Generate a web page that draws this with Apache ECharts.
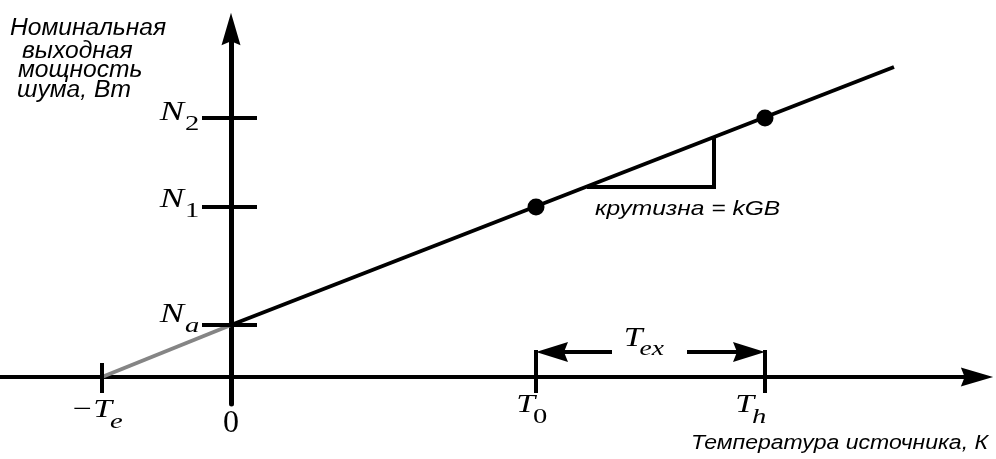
<!DOCTYPE html>
<html><head><meta charset="utf-8">
<script src="https://cdn.jsdelivr.net/npm/echarts@6/dist/echarts.min.js"></script>
</head><body style="margin:0;background:#fff">
<div id="c" style="width:996px;height:459px"></div>
<script>
// ---- data (schematic units) ----
const xTickValues = [-129, 0, 305, 534];
const xTickMain = ['\u2212T', '0', 'T', 'T'];
const xTickSub = ['e', '', '0', 'h'];
const yTickValues = [52, 170, 259];
const yTickMain = ['N', 'N', 'N'];
const yTickSub = ['a', '1', '2'];
const extrapolatedLine = [[-129, 0], [0, 52]];
const noiseLine = [[0, 52], [663, 310]];
const markedPoints = [[305, 170], [534, 259]];
const slopeTriangle = [[356, 190], [483, 190], [483, 239]];
const texArrows = [[305, 381], [534, 456]]; // [tip, tail]
const texLevel = 25;
const texMain = 'T', texSub = 'ex';
const yTitleLines = ['Номинальная', 'выходная', 'мощность', 'шума, Вт'];
const xTitle = 'Температура источника, К';
const slopeLabel = 'крутизна = kGB';

// ---- styles ----
const SERIF = '"Liberation Serif", "Times New Roman", serif';
const SANS = '"Liberation Sans", Arial, sans-serif';
const italicSub = s => /[a-z]/.test(s);
const xLabelStyle = [ {dx: 10, dy: 33}, {dx: 0, dy: 47}, {dx: -1, dy: 28}, {dx: -11, dy: 28} ];
const yLabelDy = [-10, -7, -5];
const ARROW = 'path://M5 0L10 17L5 15L0 17Z';

const chart = echarts.init(document.getElementById('c'), null, {renderer: 'canvas'});

function subLabel(jx, cy, main, sub, mainSize, subSize, scale, subDy, subDx) {
  const kids = [{
    type: 'text', x: jx, y: cy, scaleX: scale,
    style: {text: main, font: 'italic ' + mainSize + 'px ' + SERIF, fill: '#000', align: 'right', verticalAlign: 'middle'}
  }];
  if (sub) kids.push({
    type: 'text', x: jx + (subDx || 1), y: cy + subDy, scaleX: scale,
    style: {text: sub, font: (italicSub(sub) ? 'italic ' : '') + subSize + 'px ' + SERIF, fill: '#000', align: 'left', verticalAlign: 'middle'}
  });
  return {type: 'group', children: kids};
}

const option = {
  animation: false,
  backgroundColor: '#fff',
  grid: {left: 0, top: 29, width: 977, height: 375, containLabel: false},
  xAxis: {
    type: 'value', min: -231, max: 746,
    axisLine: {onZero: true, lineStyle: {color: '#000', width: 4}, symbol: ['none', ARROW], symbolSize: [19, 33]},
    axisTick: {show: false}, axisLabel: {show: false}, splitLine: {show: false}
  },
  yAxis: {
    type: 'value', min: -27, max: 348,
    axisLine: {onZero: true, lineStyle: {color: '#000', width: 5}, symbol: ['none', ARROW], symbolSize: [19, 33]},
    axisTick: {show: false}, axisLabel: {show: false}, splitLine: {show: false}
  },
  series: [
    {type: 'line', data: extrapolatedLine, symbol: 'none', lineStyle: {color: '#858585', width: 4}, z: 3},
    {type: 'line', data: noiseLine, symbol: 'none', lineStyle: {color: '#000', width: 4}, z: 3},
    {type: 'line', data: slopeTriangle, symbol: 'none', lineStyle: {color: '#000', width: 4, join: 'miter'}, z: 3},
    {type: 'scatter', data: markedPoints, symbol: 'circle', symbolSize: 17, itemStyle: {color: '#000', opacity: 1}, z: 5},
    { // x ticks
      type: 'custom', z: 4,
      data: xTickValues.map(v => [v, 0]),
      renderItem(params, api) {
        const v = api.value(0);
        if (v === 0) return null;
        const p = api.coord([v, 0]);
        const up = params.dataIndex === 0 ? 14 : 27;
        return {type: 'line', shape: {x1: p[0], y1: p[1] - up, x2: p[0], y2: p[1] + 16},
          style: {stroke: '#000', lineWidth: 4}};
      }
    },
    { // y ticks
      type: 'custom', z: 4,
      data: yTickValues.map(v => [0, v]),
      renderItem(params, api) {
        const p = api.coord([0, api.value(1)]);
        return {type: 'line', shape: {x1: p[0] - 29, y1: p[1], x2: p[0] + 26, y2: p[1]},
          style: {stroke: '#000', lineWidth: 4}};
      }
    },
    { // y labels
      type: 'custom', z: 6,
      data: yTickValues.map(v => [0, v]),
      renderItem(params, api) {
        const i = params.dataIndex;
        const p = api.coord([0, api.value(1)]);
        return subLabel(p[0] - 47, p[1] + yLabelDy[i], yTickMain[i], yTickSub[i], 28, 22, 1.3, 11);
      }
    },
    { // x labels
      type: 'custom', z: 6,
      data: xTickValues.map(v => [v, 0]),
      renderItem(params, api) {
        const i = params.dataIndex;
        const p = api.coord([api.value(0), 0]);
        const s = xLabelStyle[i];
        if (!xTickSub[i]) {
          return {type: 'text', x: p[0] + s.dx, y: p[1] + s.dy,
            style: {text: xTickMain[i], font: '32px ' + SERIF, fill: '#000', align: 'center', verticalAlign: 'middle'}};
        }
        return subLabel(p[0] + s.dx, p[1] + s.dy, xTickMain[i], xTickSub[i], 26, 22, 1.3, 12, -2);
      }
    },
    { // T_ex span arrows
      type: 'custom', z: 4,
      data: texArrows,
      renderItem(params, api) {
        const tip = api.coord([api.value(0), texLevel]);
        const tail = api.coord([api.value(1), texLevel]);
        const dir = Math.sign(tail[0] - tip[0]);
        const L = 32, W = 10, notch = 4;
        return {type: 'group', children: [
          {type: 'line', shape: {x1: tail[0], y1: tail[1], x2: tip[0] + dir * (L - notch), y2: tip[1]},
            style: {stroke: '#000', lineWidth: 4}},
          {type: 'polygon', shape: {points: [[tip[0], tip[1]], [tip[0] + dir * L, tip[1] - W], [tip[0] + dir * (L - notch), tip[1]], [tip[0] + dir * L, tip[1] + W]]},
            style: {fill: '#000'}}
        ]};
      }
    },
    { // T_ex label
      type: 'custom', z: 6,
      data: [[(texArrows[0][0] + texArrows[1][0]) / 2, texLevel]],
      renderItem(params, api) {
        const p = api.coord([api.value(0), api.value(1)]);
        return subLabel(p[0] - 8, p[1] - 13, texMain, texSub, 27, 22, 1.25, 10, -3);
      }
    }
  ],
  graphic: [
    ...yTitleLines.map((t, i) => ({
      type: 'text', x: [10, 22, 18, 17][i], y: [29, 52, 71, 91][i], scaleX: 1.07,
      style: {text: t, font: 'italic 23px ' + SANS, fill: '#000', align: 'left', verticalAlign: 'middle'}
    })),
    {type: 'text', x: 988, y: 443, scaleX: 1.15,
      style: {text: xTitle, font: 'italic 20px ' + SANS, fill: '#000', align: 'right', verticalAlign: 'middle'}},
    {type: 'text', x: 595, y: 209, scaleX: 1.17,
      style: {text: slopeLabel, font: 'italic 21px ' + SANS, fill: '#000', align: 'left', verticalAlign: 'middle'}}
  ]
};
chart.setOption(option);
</script>
</body></html>
